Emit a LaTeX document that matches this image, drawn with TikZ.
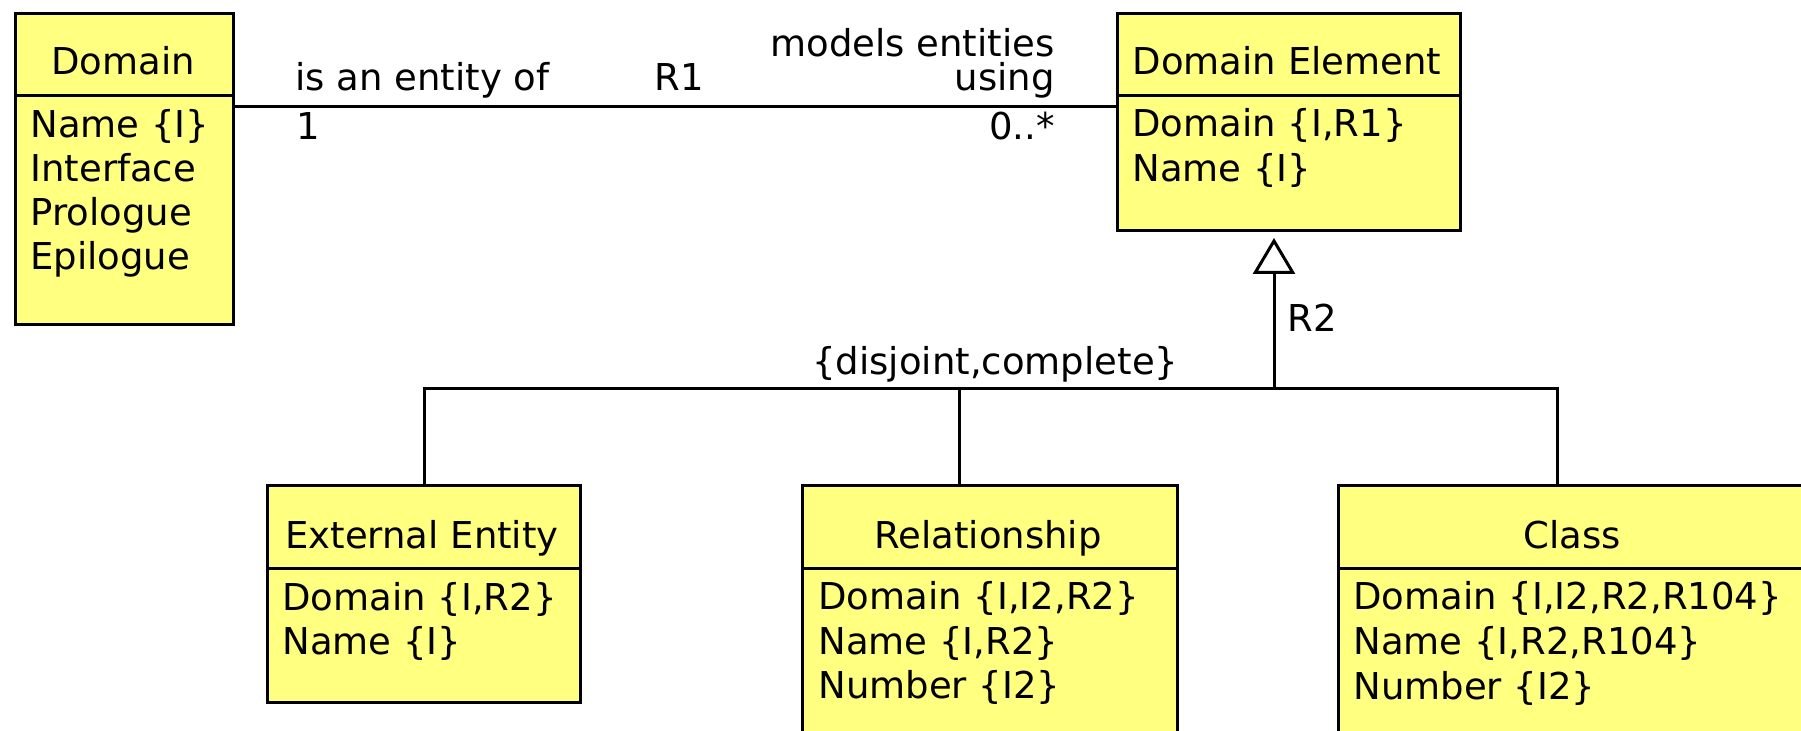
\documentclass[tikz,border=0pt]{standalone}
\usepackage{fontspec}
\setmainfont{DejaVu Sans}
\usetikzlibrary{arrows.meta}
\definecolor{umlyellow}{RGB}{255,255,128}
\begin{document}
\begin{tikzpicture}[x=0.5pt,y=-0.5pt,
  umlbox/.style={draw, line width=1.5pt, fill=umlyellow, inner sep=0pt, anchor=north west},
  conn/.style={line width=1.5pt},
  txt/.style={inner sep=0pt, font=\fontsize{18.5pt}{22pt}\selectfont},
  lt/.style={txt, anchor=base west},
  rt/.style={txt, anchor=base east},
  ct/.style={txt, anchor=base}]
\useasboundingbox[fill=white] (0,0) rectangle (1801,731);

% boxes
\node[umlbox, minimum width=109pt, minimum height=155.5pt] (dom) at (14,12) {};
\node[umlbox, minimum width=171.5pt, minimum height=108.5pt] (de) at (1116,12) {};
\node[umlbox, minimum width=156.5pt, minimum height=108.5pt] (ee) at (266,484) {};
\node[umlbox, minimum width=187.5pt, minimum height=138pt] (rel) at (801,484) {};
\node[umlbox, minimum width=235pt, minimum height=138pt] (cl) at (1337,484) {};

% separators
\draw[conn] (dom.west |- 0,96) -- (dom.east |- 0,96);
\draw[conn] (de.west |- 0,96) -- (de.east |- 0,96);
\draw[conn] (ee.west |- 0,569) -- (ee.east |- 0,569);
\draw[conn] (rel.west |- 0,569) -- (rel.east |- 0,569);
\draw[conn] (cl.west |- 0,569) -- (cl.east |- 0,569);

% Domain
\node[ct] (domT) at (123,75) {Domain};
\node[lt] (dom1) at (30,138) {Name \{I\}};
\node[lt] (dom2) at (30,182) {Interface};
\node[lt] (dom3) at (30,226) {Prologue};
\node[lt] (dom4) at (30,270) {Epilogue};

% Domain Element
\node[ct] (deT) at (1287,75) {Domain Element};
\node[lt] (de1) at (1132,137) {Domain \{I,R1\}};
\node[lt] (de2) at (1132,182) {Name \{I\}};

% External Entity
\node[ct] (eeT) at (422,549) {External Entity};
\node[lt] (ee1) at (282,611) {Domain \{I,R2\}};
\node[lt] (ee2) at (282,655) {Name \{I\}};

% Relationship
\node[ct] (relT) at (988,549) {Relationship};
\node[lt] (rel1) at (818,610) {Domain \{I,I2,R2\}};
\node[lt] (rel2) at (818,655) {Name \{I,R2\}};
\node[lt] (rel3) at (818,699) {Number \{I2\}};

% Class
\node[ct] (clT) at (1572,549) {Class};
\node[lt] (cl1) at (1353,610) {Domain \{I,I2,R2,R104\}};
\node[lt] (cl2) at (1353,655) {Name \{I,R2,R104\}};
\node[lt] (cl3) at (1353,700) {Number \{I2\}};

% R1 association
\draw[conn] (dom.east |- 0,107) -- (de.west |- 0,107);
\node[lt] (r1a) at (295,91) {is an entity of};
\node[lt] (r1m1) at (296,140) {1};
\node[lt] (r1n) at (654,91) {R1};
\node[rt] (r1b) at (1055,57) {models entities};
\node[rt] (r1c) at (1055,91) {using};
\node[rt] (r1m2) at (1055,140) {0..*};

% R2 generalization
\coordinate (h1) at (424,389);
\coordinate (h2) at (959,389);
\coordinate (jR) at (1274,389);
\coordinate (h3) at (1557,389);
\draw[conn, -{Triangle[open, width=21pt, length=18pt]}] (jR) -- ([yshift=-3pt]de.south -| jR);
\draw[conn] (ee.north -| h1) -- (h1) -- (h3) -- (cl.north -| h3);
\draw[conn] (h2) -- (rel.north -| h2);
\node[lt] (r2) at (1287,332) {R2};
\node[lt] (dc) at (812,375) {\{disjoint,complete\}};
\end{tikzpicture}
\end{document}
